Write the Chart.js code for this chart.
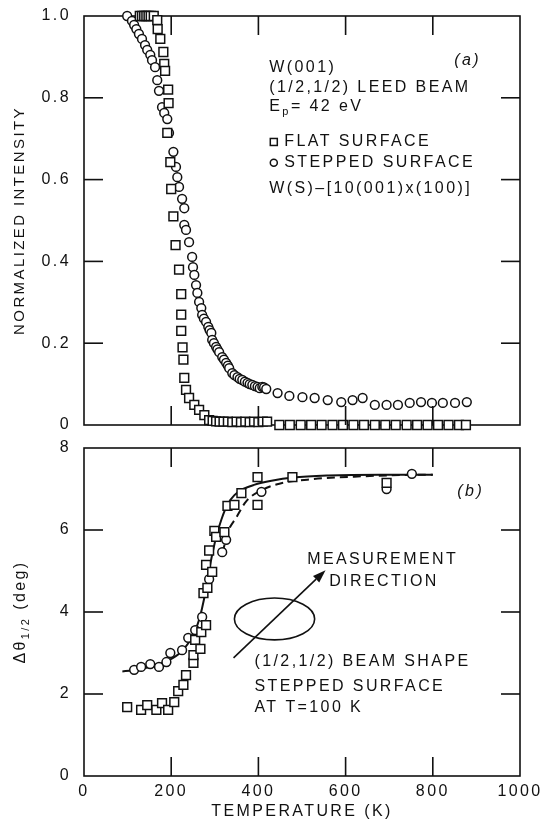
<!DOCTYPE html>
<html>
<head>
<meta charset="utf-8">
<script src="https://cdn.jsdelivr.net/npm/chart.js@4.4.0/dist/chart.umd.min.js"></script>
<style>
  html, body { margin: 0; padding: 0; background: #fff; }
  #wrap { position: relative; width: 550px; height: 830px; }
  #topChart { position: absolute; left: 0; top: 0; }
  #botChart { position: absolute; left: 0; top: 436px; }
</style>
</head>
<body>
<div id="wrap">
  <canvas id="topChart" width="550" height="436"></canvas>
  <canvas id="botChart" width="550" height="394"></canvas>
</div>
<script>
// shared temperature axis (K)
const tempTicks = [0, 200, 400, 600, 800, 1000];
const tempLabels = ['0', '200', '400', '600', '800', '1000'];
const tempInner = [200, 400, 600, 800];

// (a) normalized intensity
const intTicks = [0, 0.2, 0.4, 0.6, 0.8, 1.0];
const intLabels = ['0', '0.2', '0.4', '0.6', '0.8', '1.0'];
const intInner = [0.2, 0.4, 0.6, 0.8];

// flat surface (squares)
const flatT = [128,133,138,143,148,153,160,168,169,175,
  182,184,186,193,194,191,198,200,205,210,
  218,223,223,223,226,228,230,234,241,253,
  264,276,287,295,303,311,320,330,340,350,
  360,370,380,390,400,410,420,448,472,497,
  521,545,570,594,618,642,667,691,715,740,
  764,788,812,836,860,876];
const flatI = [1,1,1,1,1,1,1,0.99,0.968,0.944,
  0.912,0.883,0.866,0.82,0.787,0.714,0.643,0.577,0.51,0.44,
  0.38,0.32,0.27,0.23,0.19,0.16,0.115,0.086,0.066,0.049,
  0.037,0.024,0.012,0.01,0.009,0.008,0.008,0.008,0.007,0.008,
  0.007,0.008,0.007,0.008,0.007,0.008,0.008,0,0,0,
  0,0,0,0,0,0,0,0,0,0,
  0,0,0,0,0,0];

// stepped surface (circles)
const stepT = [99,110,115,120,126,133,140,145,152,156,
  163,168,172,179,184,191,195,205,211,214,
  218,225,230,230,234,241,248,250,253,257,
  260,264,269,271,275,280,285,288,292,294,
  298,303,306,310,317,321,326,330,333,340,
  345,352,357,363,369,375,380,386,392,398,
  403,409,413,418,444,471,501,529,559,590,
  616,639,667,694,720,747,773,798,823,851,
  878];
const stepI = [1.0,0.988,0.978,0.968,0.956,0.944,0.929,0.917,0.905,0.892,
  0.875,0.843,0.817,0.777,0.763,0.748,0.714,0.668,0.631,0.606,
  0.582,0.553,0.53,0.489,0.477,0.447,0.411,0.386,0.367,0.342,
  0.323,0.301,0.286,0.269,0.26,0.252,0.24,0.232,0.225,0.208,
  0.2,0.191,0.185,0.178,0.166,0.16,0.152,0.145,0.139,0.127,
  0.122,0.117,0.113,0.11,0.106,0.103,0.1,0.098,0.095,0.093,
  0.09,0.093,0.092,0.088,0.078,0.071,0.068,0.066,0.061,0.056,
  0.061,0.066,0.049,0.049,0.049,0.054,0.056,0.054,0.054,0.054,
  0.056];

// (b) beam width, deg
const widthTicks = [0, 2, 4, 6, 8];
const widthLabels = ['0', '2', '4', '6', '8'];
const widthInner = [2, 4, 6];

const flatWT = [99,131,145,166,179,193,207,216,228,234,251,251,255,267,269,274,280,280,283,287,294,299,303,322,329,345,361,398,398,478,694];
const flatWD = [1.68,1.61,1.73,1.61,1.78,1.61,1.8,2.07,2.22,2.46,2.76,2.95,3.32,3.1,3.51,4.46,3.68,5.15,4.59,5.5,4.98,5.98,5.83,5.95,6.59,6.61,6.9,7.29,6.61,7.29,7.15];

const stepWT = [115,131,152,172,189,198,225,239,255,271,287,317,326,407,694,752];
const stepWD = [2.59,2.66,2.73,2.66,2.78,3.0,3.07,3.37,3.56,3.88,4.8,5.46,5.76,6.93,7.0,7.37];

// fitted curves
const solidT = [88,110,150,190,220,240,255,265,275,285,295,305,315,329,345,365,390,430,480,560,680,800];
const solidD = [2.55,2.58,2.66,2.8,3.0,3.25,3.55,3.85,4.3,4.9,5.45,5.9,6.25,6.62,6.85,7.0,7.1,7.2,7.28,7.33,7.35,7.35];
const dashT = [318,330,349,372,409,448,524,639,724,800];
const dashD = [5.45,5.95,6.3,6.7,6.98,7.13,7.24,7.31,7.34,7.35];

const FONT = "'Liberation Sans', Arial, sans-serif";
const INK = '#111';
Chart.defaults.font.family = FONT;
Chart.defaults.font.size = 16;
Chart.defaults.color = INK;
Chart.defaults.animation = false;

function pts(xs, ys) { return xs.map((x, i) => ({ x: x, y: ys[i] })); }
function fixTicks(values) { return scale => { scale.ticks = values.map(v => ({ value: v })); }; }

// wide lettering like the original
const spacing = { id: 'spacing', beforeDraw(chart) { chart.ctx.letterSpacing = '2.4px'; } };

// pixel for a value, falling back on the scale's own range
function pix(scale, v, lo, hi) {
  const p = scale.getPixelForValue(v);
  if (isFinite(p)) return p;
  return lo + (v - scale.min) / (scale.max - scale.min) * (hi - lo);
}

// box frame under the points, inward ticks on all four sides on top
function makeFrame(xTicks, yTicks) {
  return {
    id: 'frameTicks',
    beforeDatasetsDraw(chart) {
      const { ctx, chartArea: a } = chart;
      ctx.save();
      ctx.strokeStyle = INK;
      ctx.lineWidth = 1.6;
      ctx.strokeRect(a.left, a.top, a.right - a.left, a.bottom - a.top);
      ctx.restore();
    },
    afterDraw(chart) {
      const { ctx, chartArea: a, scales } = chart;
      const L = 19, w = 1.6;
      ctx.save();
      ctx.globalAlpha = 1;
      ctx.globalCompositeOperation = 'source-over';
      ctx.fillStyle = INK;
      xTicks.forEach(v => {
        const px = pix(scales.x, v, a.left, a.right);
        ctx.fillRect(px - w / 2, a.top, w, L);
        ctx.fillRect(px - w / 2, a.bottom - L, w, L);
      });
      yTicks.forEach(v => {
        const py = pix(scales.y, v, a.bottom, a.top);
        ctx.fillRect(a.left, py - w / 2, L, w);
        ctx.fillRect(a.right - L, py - w / 2, L, w);
      });
      ctx.restore();
    }
  };
}

// text with a subscript piece
function subText(ctx, parts, x, y) {
  parts.forEach(p => {
    ctx.font = p[1] + 'px ' + FONT;
    ctx.fillText(p[0], x, y + p[2]);
    x += ctx.measureText(p[0]).width;
  });
  return x;
}
function partsWidth(ctx, parts) {
  let w = 0;
  parts.forEach(p => { ctx.font = p[1] + 'px ' + FONT; w += ctx.measureText(p[0]).width; });
  return w;
}

const topNotes = {
  id: 'topNotes',
  afterDraw(chart) {
    const { ctx, scales: { x, y } } = chart;
    ctx.save();
    ctx.fillStyle = INK; ctx.strokeStyle = INK;
    ctx.textBaseline = 'middle'; ctx.textAlign = 'left';
    ctx.font = '16px ' + FONT;
    const px = x.getPixelForValue(425);
    ctx.fillText('W(001)', px, y.getPixelForValue(0.873));
    ctx.fillText('(1/2,1/2) LEED BEAM', px, y.getPixelForValue(0.824));
    subText(ctx, [['E', 16, 0], ['p', 11, 5], ['= 42 eV', 16, 0]], px, y.getPixelForValue(0.778));
    ctx.font = '16px ' + FONT;
    let ly = y.getPixelForValue(0.692);
    ctx.lineWidth = 1.5;
    ctx.strokeRect(px + 1, ly - 3.5, 7, 7);
    ctx.fillText('FLAT SURFACE', px + 15, ly);
    ly = y.getPixelForValue(0.641);
    ctx.beginPath(); ctx.arc(px + 4.5, ly, 3.5, 0, Math.PI * 2); ctx.stroke();
    ctx.fillText('STEPPED SURFACE', px + 15, ly);
    ctx.fillText('W(S)\u2013[10(001)x(100)]', px, y.getPixelForValue(0.579));
    ctx.font = 'italic 16px ' + FONT;
    ctx.textAlign = 'center';
    ctx.fillText('(a)', x.getPixelForValue(880), y.getPixelForValue(0.892));
    ctx.restore();
  }
};

const botNotes = {
  id: 'botNotes',
  afterDraw(chart) {
    const { ctx, chartArea: a, scales: { x, y } } = chart;
    ctx.save();
    ctx.fillStyle = INK; ctx.strokeStyle = INK;
    ctx.textBaseline = 'middle';
    // y title with subscript
    const title = [['\u0394\u03b8', 16, 0], ['1/2', 11, 5], [' (deg)', 16, 0]];
    ctx.save();
    ctx.translate(21, (a.top + a.bottom) / 2);
    ctx.rotate(-Math.PI / 2);
    ctx.textAlign = 'left';
    subText(ctx, title, -partsWidth(ctx, title) / 2, 0);
    ctx.restore();

    ctx.font = '16px ' + FONT;
    ctx.textAlign = 'center';
    ctx.fillText('MEASUREMENT', x.getPixelForValue(685), y.getPixelForValue(5.27));
    ctx.fillText('DIRECTION', x.getPixelForValue(688), y.getPixelForValue(4.73));
    ctx.textAlign = 'left';
    const bx = x.getPixelForValue(391);
    ctx.fillText('(1/2,1/2) BEAM SHAPE', bx, y.getPixelForValue(2.80));
    ctx.fillText('STEPPED SURFACE', bx, y.getPixelForValue(2.17));
    ctx.fillText('AT T=100 K', bx, y.getPixelForValue(1.66));
    ctx.font = 'italic 16px ' + FONT;
    ctx.textAlign = 'center';
    ctx.fillText('(b)', x.getPixelForValue(887), y.getPixelForValue(6.95));

    // beam shape ellipse
    const cx = x.getPixelForValue(437), cy = y.getPixelForValue(3.83);
    const rx = x.getPixelForValue(437 + 92) - cx, ry = cy - y.getPixelForValue(3.83 + 0.51);
    ctx.lineWidth = 1.6;
    ctx.beginPath(); ctx.ellipse(cx, cy, rx, ry, 0, 0, Math.PI * 2); ctx.stroke();

    // measurement direction arrow
    const x0 = x.getPixelForValue(343), y0 = y.getPixelForValue(2.88);
    const x1 = x.getPixelForValue(554), y1 = y.getPixelForValue(5.02);
    const ang = Math.atan2(y1 - y0, x1 - x0);
    const hl = 13, hw = 4.5;
    ctx.beginPath(); ctx.moveTo(x0, y0);
    ctx.lineTo(x1 - hl * Math.cos(ang), y1 - hl * Math.sin(ang)); ctx.stroke();
    ctx.beginPath();
    ctx.moveTo(x1, y1);
    ctx.lineTo(x1 - hl * Math.cos(ang) + hw * Math.sin(ang), y1 - hl * Math.sin(ang) - hw * Math.cos(ang));
    ctx.lineTo(x1 - hl * Math.cos(ang) - hw * Math.sin(ang), y1 - hl * Math.sin(ang) + hw * Math.cos(ang));
    ctx.closePath(); ctx.fill();
    ctx.restore();
  }
};

const squareStyle = { pointStyle: 'rect', pointRadius: 6.2, borderColor: INK, backgroundColor: '#fff', borderWidth: 1.5, showLine: false, clip: false };
const circleStyle = { pointStyle: 'circle', pointRadius: 4.4, borderColor: INK, backgroundColor: '#fff', borderWidth: 1.5, showLine: false, clip: false };

// fixed axis width, no extra label padding
function yFit(s) { s.width = 84; s.paddingTop = 0; s.paddingBottom = 0; }

new Chart(document.getElementById('topChart'), {
  type: 'scatter',
  data: {
    datasets: [
      Object.assign({ label: 'flat surface', data: pts(flatT, flatI) }, squareStyle),
      Object.assign({ label: 'stepped surface', data: pts(stepT, stepI) }, circleStyle)
    ]
  },
  options: {
    responsive: false,
    layout: { padding: { left: 0, right: 30, top: 16, bottom: 11 } },
    plugins: { legend: { display: false }, tooltip: { enabled: false } },
    scales: {
      x: {
        type: 'linear', min: 0, max: 1000,
        afterBuildTicks: fixTicks(tempTicks),
        ticks: { display: false },
        grid: { display: false, drawTicks: false },
        border: { display: false },
        afterFit: s => { s.height = 0; s.paddingLeft = 0; s.paddingRight = 0; }
      },
      y: {
        type: 'linear', min: 0, max: 1,
        afterBuildTicks: fixTicks(intTicks),
        ticks: { padding: 13, callback: (v, i) => intLabels[i] },
        grid: { display: false, drawTicks: false },
        border: { display: false },
        title: { display: true, text: 'NORMALIZED INTENSITY', font: { size: 15 }, padding: { top: 11, bottom: 0 } },
        afterFit: yFit
      }
    }
  },
  plugins: [spacing, makeFrame(tempInner, intInner), topNotes]
});

new Chart(document.getElementById('botChart'), {
  type: 'scatter',
  data: {
    datasets: [
      Object.assign({ label: 'flat surface', data: pts(flatWT, flatWD), order: 1 }, squareStyle),
      Object.assign({ label: 'stepped surface', data: pts(stepWT, stepWD), order: 1 }, circleStyle),
      { label: 'fit solid', data: pts(solidT, solidD), showLine: true, pointRadius: 0, borderColor: INK, borderWidth: 2, cubicInterpolationMode: 'monotone', order: 2 },
      { label: 'fit dashed', data: pts(dashT, dashD), showLine: true, pointRadius: 0, borderColor: INK, borderWidth: 2, borderDash: [8, 5], cubicInterpolationMode: 'monotone', order: 2 }
    ]
  },
  options: {
    responsive: false,
    layout: { padding: { left: 0, right: 30, top: 12, bottom: 0 } },
    plugins: { legend: { display: false }, tooltip: { enabled: false } },
    scales: {
      x: {
        type: 'linear', min: 0, max: 1000,
        afterBuildTicks: fixTicks(tempTicks),
        ticks: { padding: 6, autoSkip: false, maxRotation: 0, callback: (v, i) => tempLabels[i] },
        grid: { display: false, drawTicks: false },
        border: { display: false },
        title: { display: true, text: 'TEMPERATURE (K)', padding: { top: 0, bottom: 9 } },
        afterFit: s => { s.height = 54; s.paddingLeft = 0; s.paddingRight = 0; }
      },
      y: {
        type: 'linear', min: 0, max: 8,
        afterBuildTicks: fixTicks(widthTicks),
        ticks: { padding: 13, callback: (v, i) => widthLabels[i] },
        grid: { display: false, drawTicks: false },
        border: { display: false },
        afterFit: yFit
      }
    }
  },
  plugins: [spacing, makeFrame(tempInner, widthInner), botNotes]
});
</script>
</body>
</html>
